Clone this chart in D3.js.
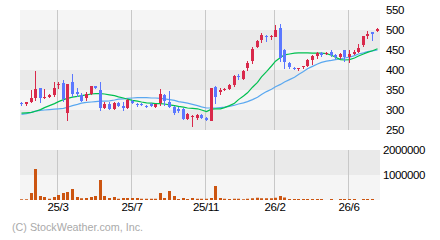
<!DOCTYPE html>
<html>
<head>
<meta charset="utf-8">
<title>Weekly candle chart</title>
<script src="https://d3js.org/d3.v7.min.js"></script>
<style>
  body { margin: 0; background: #fff; }
  svg text { font-family: "Liberation Sans", Arial, sans-serif; }
</style>
</head>
<body>
<div id="chart"></div>
<script>
// weekly candles
const open  = [318,315,320,330,355,329,333,337,363,367,293,370,345,337,331,340,360,350,305,315,
               303,317,310,306,322,315,314,310,315,308,318,338,320,308,302,302,278,283,279,287,
               279,273,358,344,350,352,362,385,378,404,423,457,475,485,482,483,505,450,418,406,
               403,407,410,426,436,443,440,446,437,432,450,432,441,444,462,486,494,498];
const close = [315,319,330,352,330,333,338,355,366,327,365,340,339,323,341,360,355,305,315,303,
               317,310,305,325,317,313,312,308,311,314,340,323,308,293,297,278,290,285,287,279,
               274,355,333,350,353,362,385,382,397,417,452,472,488,482,484,500,429,421,408,403,
               406,409,426,436,443,437,443,438,432,441,433,441,444,456,485,489,491,502];
const high  = [321,320,350,397,355,352,340,370,370,375,365,390,355,343,345,360,361,370,320,320,
               320,320,320,327,325,317,317,312,317,316,352,340,347,310,308,305,293,287,289,290,
               283,355,360,354,355,364,387,390,400,423,458,475,492,488,488,513,515,452,421,408,
               406,410,427,437,446,446,446,450,440,442,450,450,450,464,485,498,494,505];
const low   = [310,310,318,323,318,327,331,333,352,321,273,332,332,321,323,338,353,298,302,301,
               300,307,298,303,315,307,310,306,308,306,310,310,305,287,293,276,275,258,274,277,
               272,272,315,337,348,350,357,375,375,397,415,454,468,471,475,482,419,402,402,400,
               397,403,408,412,427,433,438,433,428,427,419,418,438,443,458,477,473,496];
const volume = [30000,30000,280000,1240000,160000,120000,50000,120000,200000,280000,
                320000,440000,120000,70000,80000,120000,160000,800000,160000,80000,
                120000,50000,80000,80000,80000,80000,50000,50000,50000,50000,
                280000,80000,360000,160000,40000,80000,40000,80000,50000,50000,
                50000,80000,560000,80000,50000,40000,50000,50000,30000,50000,
                70000,90000,70000,70000,70000,90000,160000,100000,40000,40000,
                40000,40000,40000,40000,40000,40000,0,40000,0,40000,
                40000,40000,40000,0,40000,40000,40000,0];
// moving averages as drawn (short = green, long = blue)
const maShort = [292,293,294,297,301,306,311,316,321,326,329,332,334,336,338,340,341,341,340,338,
                 336,333,330,327,324,322,320,318,317,316,316,315,313,311,309,307,305,304,303,300,
                 296,302,303,303,306,311,317,326,335,343,357,369,383,396,410,422,431,438,440,442,
                 443,443,443,442,442,442,441,437,432,426,425,426,430,435,440,444,448,453];
const maLong  = [289,291,294,297,299,300,301,302,303,304,307,311,314,317,319,320,321,322,322,323,
                 325,327,328,329,330,331,331,331,330,330,329,328,326,324,321,319,317,314,311,308,
                 305,305,305,306,307,309,312,315,318,321,326,332,339,346,352,358,364,370,376,382,
                 389,396,403,409,415,419,422,424,426,428,430,432,436,440,443,446,448,450];
const tickIndex  = [8, 24, 40, 55, 71];
const tickLabels = ["25/3", "25/7", "25/11", "26/2", "26/6"];
const priceTicks = [250, 300, 350, 400, 450, 500, 550];
const volumeTicks = [1000000, 2000000];

const width = 440, height = 240;
const left = 20, right = 380;
const priceTop = 10, priceBottom = 130;
const volTop = 150, volBottom = 200;

const svg = d3.select('#chart').append('svg')
  .attr('width', width)
  .attr('height', height)
  .style('display', 'block');

const x = d3.scaleBand()
  .domain(d3.range(open.length))
  .range([left - 1, right - 1]);
const cx = i => Math.round(x(i) + x.bandwidth() / 2);

const yPrice = d3.scaleLinear().domain([250, 550]).range([priceBottom, priceTop]);
const yVol = d3.scaleLinear().domain([0, 2000000]).range([volBottom, volTop]);

// background bands
const priceBands = d3.pairs(priceTicks);
svg.append('g').selectAll('rect')
  .data(priceBands)
  .join('rect')
  .attr('x', left)
  .attr('width', right - left)
  .attr('y', d => yPrice(d[1]))
  .attr('height', d => yPrice(d[0]) - yPrice(d[1]))
  .attr('fill', (d, i) => i % 2 === 0 ? '#eaeaea' : '#f5f5f5');

const volBands = d3.pairs([0].concat(volumeTicks));
svg.append('g').selectAll('rect')
  .data(volBands)
  .join('rect')
  .attr('x', left)
  .attr('width', right - left)
  .attr('y', d => yVol(d[1]))
  .attr('height', d => yVol(d[0]) - yVol(d[1]))
  .attr('fill', (d, i) => i % 2 === 0 ? '#f5f5f5' : '#eaeaea');

// vertical grid lines
const grid = svg.append('g').attr('stroke', '#c8c8c8').attr('stroke-width', 1);
tickIndex.forEach(i => {
  const gx = cx(i) - 0.5;
  grid.append('line').attr('x1', gx).attr('x2', gx).attr('y1', priceTop).attr('y2', priceBottom);
  grid.append('line').attr('x1', gx).attr('x2', gx).attr('y1', volTop).attr('y2', volBottom);
});

// volume bars
svg.append('g').selectAll('rect')
  .data(volume)
  .join('rect')
  .attr('x', (d, i) => cx(i) - 1)
  .attr('width', 3)
  .attr('y', d => yVol(d))
  .attr('height', d => yVol(0) - yVol(d))
  .attr('fill', '#cc5511');

// moving averages
const line = d3.line()
  .x((d, i) => cx(i) + 0.5)
  .y(d => yPrice(d));
svg.append('path').datum(maLong)
  .attr('d', line).attr('fill', 'none').attr('stroke', '#5aa8f0').attr('stroke-width', 1.2);
svg.append('path').datum(maShort)
  .attr('d', line).attr('fill', 'none').attr('stroke', '#00c050').attr('stroke-width', 1.2);

// candles
const up = '#d9294b', down = '#5b78ff';
const candles = svg.append('g').attr('shape-rendering', 'crispEdges');
open.forEach((o, i) => {
  const c = close[i];
  const col = c >= o ? up : down;
  candles.append('line')
    .attr('x1', cx(i) + 0.5).attr('x2', cx(i) + 0.5)
    .attr('y1', yPrice(high[i])).attr('y2', yPrice(low[i]))
    .attr('stroke', col).attr('stroke-width', 1);
  const top = yPrice(Math.max(o, c)), bot = yPrice(Math.min(o, c));
  candles.append('rect')
    .attr('x', cx(i) - 1)
    .attr('width', 3)
    .attr('y', top)
    .attr('height', Math.max(1, bot - top))
    .attr('fill', col);
});

// right axis labels
svg.append('g').selectAll('text')
  .data(priceTicks)
  .join('text')
  .attr('x', 386)
  .attr('y', d => yPrice(d) + 4)
  .attr('font-size', 11.5)
  .attr('letter-spacing', -0.4)
  .attr('fill', '#000')
  .text(d => d);

svg.append('g').selectAll('text')
  .data(volumeTicks)
  .join('text')
  .attr('x', 383)
  .attr('y', d => yVol(d) + 4)
  .attr('font-size', 11.5)
  .attr('letter-spacing', -0.4)
  .attr('fill', '#000')
  .text(d => d);

// bottom date labels
svg.append('g').selectAll('text')
  .data(tickIndex)
  .join('text')
  .attr('x', d => cx(d))
  .attr('y', 211)
  .attr('text-anchor', 'middle')
  .attr('font-size', 11.5)
  .attr('letter-spacing', -0.4)
  .attr('fill', '#000')
  .text((d, i) => tickLabels[i]);

svg.append('text')
  .attr('x', 12)
  .attr('y', 231)
  .attr('font-size', 11.5)
  .attr('textLength', 131)
  .attr('lengthAdjust', 'spacingAndGlyphs')
  .attr('fill', '#aaaaaa')
  .text('(C) StockWeather.com, Inc.');
</script>
</body>
</html>
